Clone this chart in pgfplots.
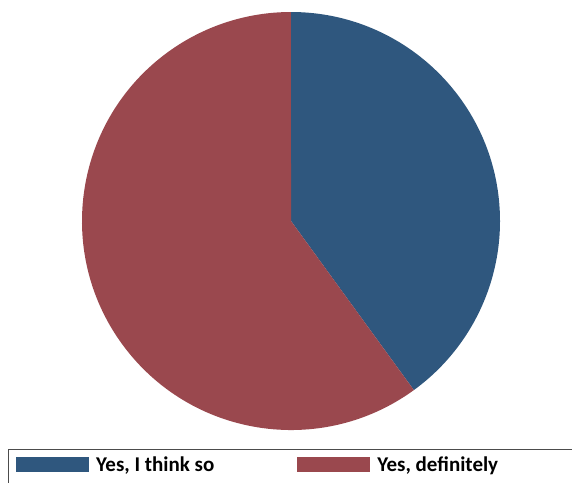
\documentclass[border=0pt]{standalone}
\usepackage{pgfplots}
\usepackage{pgfplotstable}
\pgfplotsset{compat=1.18}
\usepackage{fontspec}
\setmainfont{Carlito}
\definecolor{pieblue}{RGB}{47,87,126}
\definecolor{piered}{RGB}{154,72,78}
\pgfplotstableread[col sep=comma]{
label,value
Yes I think so,40
Yes definitely,60
}\piedata
\begin{document}
\begin{tikzpicture}
\pgfplotstablegetelem{0}{value}\of\piedata \let\valA\pgfplotsretval
\pgfplotstablegetelem{1}{value}\of\piedata \let\valB\pgfplotsretval
\pgfmathsetmacro{\tot}{\valA+\valB}
\pgfmathsetmacro{\angA}{90-360*(\valA/\tot)}
\pgfmathsetmacro{\angB}{\angA-360*(\valB/\tot)}
\begin{axis}[
  scale only axis, width=572pt, height=482pt,
  xmin=0, xmax=572, ymin=0, ymax=482, y dir=reverse,
  axis lines=none, clip=true,
  legend columns=2,
  legend style={at={(axis cs:16,464.5)}, anchor=west, draw=none, fill=none,
    inner sep=0pt, font=\bfseries\fontsize{21}{24}\selectfont,
    /tikz/every odd column/.append style={column sep=7pt},
    /tikz/every even column/.append style={column sep=83pt},
    nodes={inner sep=0pt, anchor=west}},
  legend image code/.code={\fill[#1,draw=none] (0pt,-7.5pt) rectangle (73pt,7.5pt);},
]
\addlegendimage{fill=pieblue,draw=none}
\addlegendentry{Yes, I think so}
\addlegendimage{fill=piered,draw=none}
\addlegendentry{Yes, definitely}
\fill[pieblue] (axis cs:291,221) -- ++(90:209pt) arc[start angle=90, end angle=\angA, radius=209pt] -- cycle;
\fill[piered] (axis cs:291,221) -- ++(\angA:209pt) arc[start angle=\angA, end angle=\angB, radius=209pt] -- cycle;
\draw[black!70, line width=1pt] (axis cs:8,495) -- (axis cs:8,449.5) -- (axis cs:590,449.5);
\end{axis}
\pgfresetboundingbox
\useasboundingbox (current axis.south west) rectangle (current axis.north east);
\end{tikzpicture}
\end{document}
